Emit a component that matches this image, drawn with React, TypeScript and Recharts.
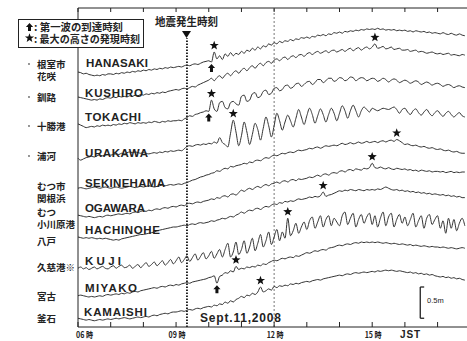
import { LineChart, Line, XAxis, YAxis, ReferenceLine, ReferenceDot } from "recharts";

// tide gauge levels in cm, relative to 06:00, one value every 5 minutes (06:00 - 17:50)
const hanasaki = [
  0, -1, -3, -2, -4, -5, -6, -5, -6, -4, -5, -3,
  -3, -4, -2, -3, -1, -2, 0, -1, 1, 0, 2, 1,
  3, 2, 4, 3, 5, 4, 6, 5, 7, 6, 8, 7,
  8, 9, 8, 10, 11, 10, 12, 13, 12, 14, 16, 17,
  18, 16, 32, 21, 26, 20, 29, 25, 31, 26, 30, 28,
  33, 30, 35, 33, 38, 35, 40, 37, 42, 40, 45, 43,
  47, 45, 49, 47, 50, 49, 52, 50, 53, 52, 55, 54,
  56, 54, 57, 56, 59, 58, 60, 58, 61, 60, 63, 62,
  64, 62, 65, 64, 66, 65, 67, 66, 68, 67, 69, 68,
  69, 68, 70, 68, 69, 67, 68, 67, 68, 66, 67, 66,
  67, 65, 66, 64, 66, 65, 64, 65, 63, 64, 62, 63,
  62, 61, 63, 61, 60, 62, 60, 59, 61, 59, 58,
];
const kushiro = [
  0, -1, -2, -3, -4, -5, -4, -5, -3, -4, -2, -1,
  -2, 0, -1, 1, 0, 1, 0, 2, 1, 3, 2, 4,
  3, 5, 4, 6, 5, 7, 6, 8, 7, 9, 10, 11,
  12, 11, 13, 14, 13, 15, 17, 16, 19, 21, 23, 25,
  27, 30, 26, 31, 34, 30, 35, 38, 34, 39, 42, 38,
  43, 46, 42, 47, 50, 46, 51, 54, 50, 55, 57, 54,
  59, 61, 58, 62, 64, 60, 64, 66, 63, 67, 68, 65,
  69, 71, 68, 71, 73, 70, 72, 74, 71, 74, 75, 72,
  74, 76, 73, 76, 78, 74, 77, 79, 75, 78, 80, 77,
  80, 85, 78, 79, 81, 77, 78, 80, 76, 77, 78, 75,
  75, 76, 73, 74, 75, 72, 73, 72, 70, 71, 72, 70,
  69, 70, 68, 69, 70, 67, 68, 67, 66, 68, 67,
];
const tokachi = [
  0, -2, -4, -6, -5, -4, -5, -3, -4, -2, -3, -2,
  -3, -1, -2, 0, -1, 1, 0, 2, 1, 0, 2, 1,
  2, 1, 3, 2, 4, 3, 2, 4, 3, 5, 4, 5,
  5, 6, 5, 8, 10, 13, 12, 15, 16, 18, 19, 21,
  20, 38, 24, 20, 34, 36, 26, 24, 34, 36, 32, 30,
  44, 46, 36, 38, 48, 50, 42, 44, 52, 54, 47, 49,
  57, 58, 53, 55, 61, 62, 57, 59, 64, 65, 60, 63,
  67, 68, 63, 66, 71, 71, 66, 69, 73, 73, 68, 70,
  74, 73, 69, 71, 75, 74, 69, 72, 74, 73, 69, 71,
  73, 72, 68, 70, 73, 71, 67, 70, 72, 70, 66, 68,
  70, 68, 65, 67, 69, 67, 63, 65, 67, 65, 62, 64,
  65, 63, 60, 62, 63, 61, 58, 60, 61, 59, 58,
];
const urakawa = [
  0, -3, -1, 1, 2, 3, 2, 4, 5, 4, 5, 6,
  5, 6, 7, 6, 8, 7, 9, 10, 9, 10, 9, 8,
  9, 8, 7, 8, 9, 8, 10, 9, 11, 10, 12, 11,
  12, 13, 12, 15, 19, 20, 19, 21, 22, 21, 23, 22,
  24, 23, 26, 24, 33, 25, 22, 18, 40, 61, 42, 20,
  36, 58, 42, 22, 38, 56, 46, 29, 48, 66, 52, 34,
  52, 72, 60, 45, 58, 69, 60, 50, 64, 78, 66, 54,
  68, 80, 70, 56, 68, 79, 70, 58, 70, 80, 72, 60,
  72, 84, 76, 64, 76, 85, 76, 66, 76, 82, 78, 74,
  80, 78, 76, 78, 80, 79, 78, 80, 82, 78, 72, 78,
  80, 74, 70, 76, 79, 73, 69, 74, 78, 72, 68, 73,
  76, 71, 67, 72, 75, 70, 66, 70, 73, 68, 66,
];
const sekinehama = [
  0, 1, 0, -1, 0, 1, 2, 1, 0, 1, 2, 1,
  0, 1, 2, 1, 0, 1, 2, 3, 2, 1, 2, 3,
  2, 3, 4, 3, 2, 3, 4, 5, 4, 5, 6, 5,
  6, 7, 6, 8, 9, 11, 13, 14, 16, 18, 19, 21,
  22, 24, 25, 28, 27, 30, 32, 31, 35, 34, 36, 37,
  38, 40, 39, 42, 41, 44, 45, 44, 47, 49, 48, 51,
  53, 52, 54, 56, 55, 57, 58, 57, 59, 61, 60, 61,
  62, 64, 63, 65, 66, 64, 66, 68, 67, 68, 69, 68,
  70, 72, 70, 71, 73, 71, 72, 74, 72, 73, 75, 73,
  74, 75, 73, 75, 76, 74, 76, 77, 75, 78, 76, 73,
  70, 71, 69, 68, 69, 67, 66, 67, 65, 64, 65, 63,
  62, 63, 61, 60, 61, 59, 58, 59, 57, 56, 56,
];
const ogawara = [
  0, -1, -2, -3, -2, -3, -4, -3, -2, -3, -1, 0,
  -1, 0, 1, 2, 1, 2, 3, 2, 4, 5, 4, 6,
  7, 6, 8, 7, 9, 10, 9, 11, 12, 11, 13, 14,
  13, 15, 16, 15, 18, 19, 18, 20, 21, 20, 22, 23,
  24, 26, 25, 28, 27, 30, 31, 29, 33, 34, 32, 36,
  40, 38, 41, 43, 41, 44, 46, 44, 47, 49, 47, 50,
  51, 53, 51, 54, 55, 53, 56, 57, 55, 58, 57, 58,
  59, 61, 60, 62, 64, 62, 65, 66, 64, 67, 68, 67,
  70, 71, 69, 72, 73, 71, 74, 73, 72, 75, 74, 76,
  83, 76, 75, 77, 75, 74, 76, 74, 73, 75, 74, 73,
  74, 72, 73, 71, 72, 70, 72, 71, 70, 71, 69, 70,
  70, 69, 70, 68, 69, 70, 68, 69, 68, 69, 69,
];
const hachinohe = [
  0, -1, -2, -1, -2, -1, -2, -3, -2, -3, -2, -3,
  -4, -5, -4, -5, -3, -2, -1, 0, 1, 2, 3, 4,
  4, 5, 6, 7, 8, 10, 11, 12, 13, 14, 15, 16,
  16, 17, 18, 19, 18, 20, 21, 20, 22, 23, 22, 23,
  24, 26, 25, 27, 28, 30, 29, 31, 33, 32, 35, 37,
  40, 38, 41, 43, 42, 45, 46, 44, 47, 49, 48, 51,
  53, 52, 55, 54, 57, 56, 58, 57, 59, 61, 60, 61,
  62, 64, 63, 65, 64, 66, 72, 65, 67, 68, 70, 72,
  74, 73, 75, 74, 76, 75, 74, 76, 75, 74, 76, 75,
  76, 75, 77, 76, 78, 80, 78, 76, 75, 76, 74, 75,
  73, 74, 72, 73, 71, 72, 70, 71, 69, 70, 68, 69,
  68, 67, 68, 66, 67, 65, 66, 64, 65, 63, 63,
];
const kuji = [
  0, 2, -1, 1, -2, 0, 2, -1, 1, 3, 0, -1,
  2, 4, 0, 3, 5, 1, 2, 5, 0, 3, 6, 1,
  5, 9, 3, 6, 10, 4, 8, 12, 5, 9, 14, 7,
  12, 18, 9, 14, 20, 11, 17, 23, 13, 19, 25, 15,
  20, 27, 16, 23, 30, 18, 30, 40, 18, 26, 42, 22,
  30, 44, 24, 34, 48, 28, 40, 54, 34, 44, 58, 38,
  50, 62, 44, 58, 48, 80, 52, 60, 72, 56, 66, 74,
  62, 76, 82, 64, 74, 84, 66, 78, 84, 68, 80, 74,
  68, 84, 90, 70, 80, 88, 66, 78, 86, 72, 82, 88,
  70, 84, 66, 80, 90, 68, 82, 88, 66, 78, 86, 72,
  82, 68, 78, 88, 66, 76, 84, 64, 80, 86, 70, 78,
  84, 64, 76, 56, 80, 64, 78, 60, 72, 80, 68,
];
const miyako = [
  0, 1, 0, -1, -2, -1, -2, -1, 0, -1, 1, 2,
  1, 2, 3, 2, 4, 3, 5, 4, 6, 7, 6, 8,
  9, 10, 11, 12, 13, 12, 14, 15, 14, 16, 17, 16,
  18, 17, 19, 20, 21, 20, 22, 23, 24, 25, 26, 27,
  29, 30, 32, 20, 31, 33, 37, 36, 40, 38, 47, 42,
  44, 43, 46, 45, 47, 46, 49, 48, 51, 50, 53, 55,
  57, 56, 58, 60, 59, 61, 62, 61, 64, 63, 65, 67,
  69, 68, 70, 72, 71, 73, 74, 73, 76, 77, 78, 80,
  81, 80, 82, 83, 82, 84, 85, 84, 86, 85, 86, 85,
  86, 85, 86, 85, 84, 85, 84, 83, 84, 83, 82, 83,
  82, 81, 82, 80, 81, 80, 79, 80, 79, 78, 79, 78,
  78, 77, 78, 77, 76, 77, 76, 75, 76, 77, 76,
];
const kamaishi = [
  0, -1, -2, -3, -2, -3, -4, -3, -2, -3, -2, -1,
  -2, -1, 0, -1, 0, 1, 0, -1, 0, 1, 2, 1,
  2, 3, 2, 4, 5, 4, 6, 7, 8, 7, 9, 10,
  10, 11, 12, 11, 13, 14, 13, 15, 16, 15, 17, 18,
  19, 18, 21, 20, 23, 22, 26, 24, 28, 26, 30, 32,
  35, 33, 37, 36, 40, 38, 42, 50, 42, 44, 47, 45,
  51, 49, 52, 51, 53, 52, 55, 54, 56, 55, 57, 58,
  59, 58, 60, 61, 62, 61, 63, 64, 65, 66, 67, 68,
  69, 68, 70, 71, 70, 72, 73, 72, 73, 74, 73, 74,
  75, 74, 76, 75, 76, 77, 76, 77, 76, 75, 76, 75,
  74, 73, 74, 72, 73, 71, 72, 70, 71, 69, 70, 68,
  67, 66, 67, 65, 66, 64, 65, 63, 64, 62, 61,
];

const series = [hanasaki, kushiro, tokachi, urakawa, sekinehama, ogawara, hachinohe, kuji, miyako, kamaishi];
const stationCodes = ["HANASAKI", "KUSHIRO", "TOKACHI", "URAKAWA", "SEKINEHAMA", "OGAWARA", "HACHINOHE", "KUJI", "MIYAKO", "KAMAISHI"];
const stationNames = [["根室市", "花咲"], ["釧路"], ["十勝港"], ["浦河"], ["むつ市", "関根浜"], ["むつ", "小川原港"], ["八戸"], ["久慈港※"], ["宮古"], ["釜石"]];
const legendLines = [": 第一波の到達時刻", ": 最大の高さの発現時刻"];

// markers: first wave arrival (arrow) and time of maximum height (star)
const firstWave = [
  { station: 0, time: "10:05" },
  { station: 2, time: "10:00" },
  { station: 8, time: "10:15" },
];
const maxHeight = [
  { station: 0, time: "10:10" },
  { station: 1, time: "15:05" },
  { station: 2, time: "10:05" },
  { station: 3, time: "10:45" },
  { station: 4, time: "15:45" },
  { station: 5, time: "15:00" },
  { station: 6, time: "13:30" },
  { station: 7, time: "12:25" },
  { station: 8, time: "10:50" },
  { station: 9, time: "11:35" },
];

const hourTicks = [6, 7, 8, 9, 10, 11, 12, 13, 14, 15, 16, 17];
const hourLabels: Record<number, string> = { 6: "06 時", 9: "09 時", 12: "12 時", 15: "15 時" };
const quakeTime = "09:20";
const scaleBarCm = 50;

// ---- layout ----
const W = 467;
const H = 341;
const yMaxCm = 510.4; // plot 8px..327px, 1px = 1.6cm
const traceOffsetCm = [408, 368, 325, 270, 222, 179, 144, 94, 50, 14];
const quakeLineTopCm = 462;
const scaleBarX = 16.47;
const scaleBarBottomCm = 14;
const codeLabels = [
  { x: 86, y: 67, w: 62 },
  { x: 85, y: 97, w: 58 },
  { x: 85, y: 121, w: 56 },
  { x: 85, y: 157, w: 63 },
  { x: 85, y: 187, w: 80 },
  { x: 85, y: 212, w: 60 },
  { x: 85, y: 234, w: 75 },
  { x: 85, y: 265, w: 36 },
  { x: 85, y: 292, w: 52 },
  { x: 84, y: 316, w: 63 },
];
const nameBaselines = [68, 101, 130, 160, 190, 216, 245, 271, 300, 322];
const dotted = [0, 1, 2, 3];

const toHour = (hhmm: string) => {
  const [h, m] = hhmm.split(":").map(Number);
  return h + m / 60;
};
const toIndex = (hhmm: string) => Math.round((toHour(hhmm) - 6) * 12);

const chartData = series[0].map((_, i) => {
  const row: Record<string, number> = { t: 6 + (i * 5) / 60 };
  series.forEach((s, k) => {
    row["s" + k] = s[i] + traceOffsetCm[k];
  });
  return row;
});

const markerY = (station: number, time: string) => series[station][toIndex(time)] + traceOffsetCm[station];

const starPoints = (cx: number, cy: number, R = 4.8, r = 2) => {
  const pts: string[] = [];
  for (let i = 0; i < 10; i++) {
    const a = -Math.PI / 2 + (i * Math.PI) / 5;
    const rad = i % 2 === 0 ? R : r;
    pts.push(`${(cx + rad * Math.cos(a)).toFixed(1)},${(cy + rad * Math.sin(a)).toFixed(1)}`);
  }
  return pts.join(" ");
};

const arrowPoints = (cx: number, top: number) =>
  [
    [cx, top],
    [cx + 3.6, top + 4],
    [cx + 1.5, top + 4],
    [cx + 1.5, top + 8],
    [cx - 1.5, top + 8],
    [cx - 1.5, top + 4],
    [cx - 3.6, top + 4],
  ]
    .map((p) => p.join(","))
    .join(" ");

const TopTick = (props: any) => {
  const { x, y } = props;
  return <line x1={x} y1={y} x2={x} y2={y + 4} stroke="#222" strokeWidth={1} />;
};

const BottomTick = (props: any) => {
  const { x, y, payload } = props;
  const h = payload.value as number;
  const label = hourLabels[h];
  return (
    <g>
      <line x1={x} y1={y - 5} x2={x} y2={y} stroke="#222" strokeWidth={1} />
      {label && (
        <text
          x={h === 6 ? x - 2 : x + 1}
          y={y + 11}
          textAnchor={h === 6 ? "start" : "middle"}
          fontSize={8.5}
          fontWeight={700}
          fill="#222"
          fontFamily="'Noto Sans CJK JP', 'DejaVu Sans', sans-serif"
          textLength={17}
          lengthAdjust="spacingAndGlyphs"
        >
          {label}
        </text>
      )}
    </g>
  );
};

const sans = "'Liberation Sans', Arial, sans-serif";
const cjk = "'Noto Sans CJK JP', sans-serif";

export default function App() {
  const quakeHour = toHour(quakeTime);
  return (
    <div style={{ position: "absolute", left: 0, top: 0, width: W, height: H, background: "#fff" }}>
      <LineChart width={W} height={H} data={chartData} margin={{ top: 0, right: 0, bottom: 0, left: 0 }}>
        <XAxis
          xAxisId="top"
          orientation="top"
          dataKey="t"
          type="number"
          domain={[6, 17.9]}
          ticks={hourTicks}
          interval={0}
          height={8}
          tickSize={0}
          tickMargin={0}
          tickLine={false}
          axisLine={{ stroke: "#222", strokeWidth: 1 }}
          tick={<TopTick />}
        />
        <XAxis
          xAxisId="b"
          dataKey="t"
          type="number"
          domain={[6, 17.9]}
          ticks={hourTicks}
          interval={0}
          height={14}
          tickSize={0}
          tickMargin={0}
          tickLine={false}
          axisLine={{ stroke: "#222", strokeWidth: 1 }}
          tick={<BottomTick />}
        />
        <YAxis
          type="number"
          domain={[0, yMaxCm]}
          width={78}
          tick={false}
          tickLine={false}
          axisLine={{ stroke: "#222", strokeWidth: 1 }}
        />
        <ReferenceLine xAxisId="b" x={12} stroke="#555" strokeWidth={0.8} strokeDasharray="2 2" />
        <ReferenceLine
          xAxisId="b"
          segment={[
            { x: quakeHour, y: 0 },
            { x: quakeHour, y: quakeLineTopCm },
          ]}
          stroke="#111"
          strokeWidth={1.8}
          strokeDasharray="1.6 1.4"
        />
        {series.map((_, k) => (
          <Line
            key={k}
            xAxisId="b"
            dataKey={"s" + k}
            type="monotone"
            stroke="#333"
            strokeWidth={1}
            dot={false}
            isAnimationActive={false}
          />
        ))}
        {maxHeight.map((m, i) => (
          <ReferenceDot
            key={"star" + i}
            xAxisId="b"
            x={toHour(m.time)}
            y={markerY(m.station, m.time)}
            r={4}
            shape={(p: any) => <polygon points={starPoints(p.cx, p.cy - 6.5)} fill="#111" />}
          />
        ))}
        {firstWave.map((m, i) => (
          <ReferenceDot
            key={"arrow" + i}
            xAxisId="b"
            x={toHour(m.time)}
            y={markerY(m.station, m.time)}
            r={4}
            shape={(p: any) => <polygon points={arrowPoints(p.cx, p.cy + 2)} fill="#111" />}
          />
        ))}
        <ReferenceLine
          xAxisId="b"
          segment={[
            { x: scaleBarX, y: scaleBarBottomCm },
            { x: scaleBarX, y: scaleBarBottomCm + scaleBarCm },
          ]}
          stroke="#222"
          strokeWidth={1.3}
        />
        <ReferenceLine
          xAxisId="b"
          segment={[
            { x: scaleBarX, y: scaleBarBottomCm + scaleBarCm },
            { x: scaleBarX + 0.12, y: scaleBarBottomCm + scaleBarCm },
          ]}
          stroke="#222"
          strokeWidth={1.3}
        />
        <ReferenceLine
          xAxisId="b"
          segment={[
            { x: scaleBarX, y: scaleBarBottomCm },
            { x: scaleBarX + 0.12, y: scaleBarBottomCm },
          ]}
          stroke="#222"
          strokeWidth={1.3}
        />
      </LineChart>
      <svg width={W} height={H} style={{ position: "absolute", left: 0, top: 0, pointerEvents: "none" }}>
        {stationCodes.map((c, i) => (
          <text
            key={c}
            x={codeLabels[i].x}
            y={codeLabels[i].y}
            fontSize={11.5}
            fontWeight={700}
            fontFamily={sans}
            fill="#222"
            textLength={codeLabels[i].w}
            lengthAdjust="spacing"
          >
            {c}
          </text>
        ))}
        {stationNames.map((lines, i) => (
          <text key={i} x={37} y={nameBaselines[i]} fontSize={9.5} fontWeight={700} fontFamily={cjk} fill="#222">
            {lines.map((s, j) => (
              <tspan key={s} x={37} dy={j === 0 ? 0 : 12}>
                {s}
              </tspan>
            ))}
          </text>
        ))}
        {dotted.map((i) => (
          <circle key={i} cx={29} cy={nameBaselines[i] - 4} r={0.9} fill="#666" />
        ))}
        <rect x={18.5} y={19.5} width={125} height={28} fill="#fff" stroke="#222" strokeWidth={1} />
        <polygon points={arrowPoints(29.5, 23)} fill="#111" />
        <polygon points={starPoints(29.5, 38)} fill="#111" />
        <text x={34} y={30.5} fontSize={10} fontWeight={700} fontFamily={cjk} fill="#222">
          <tspan x={34} textLength={89} lengthAdjust="spacingAndGlyphs">
            {legendLines[0]}
          </tspan>
          <tspan x={34} dy={12} textLength={106} lengthAdjust="spacingAndGlyphs">
            {legendLines[1]}
          </tspan>
        </text>
        <text x={155} y={25.5} fontSize={11} fontWeight={700} fontFamily={cjk} fill="#222" textLength={63} lengthAdjust="spacingAndGlyphs">
          地震発生時刻
        </text>
        <polygon points="182,31 191,31 186.5,38" fill="#111" />
        <text x={200} y={322} fontSize={12} fontWeight={700} fontFamily={sans} fill="#222" textLength={81} lengthAdjust="spacing">
          Sept.11,2008
        </text>
        <text x={400} y={338} fontSize={10} fontWeight={700} fontFamily={sans} fill="#222" textLength={20} lengthAdjust="spacing">
          JST
        </text>
        <text x={427} y={303} fontSize={7.5} fontFamily={sans} fill="#222">
          0.5m
        </text>
      </svg>
    </div>
  );
}
